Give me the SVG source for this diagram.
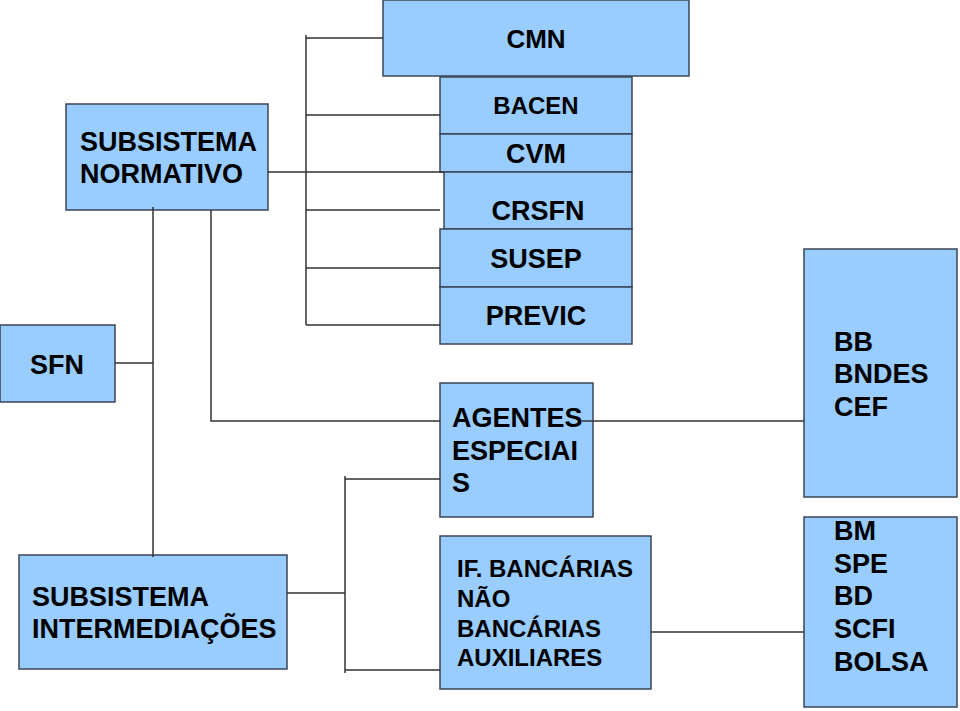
<svg xmlns="http://www.w3.org/2000/svg" width="960" height="711" viewBox="0 0 960 711">
<style>
.box{fill:#99CCFF;stroke:#3a4656;stroke-width:1.5}
.t{font-family:"Liberation Sans",Arial,sans-serif;font-weight:bold;font-size:27px;fill:#000}
.c{text-anchor:middle}
.ln{stroke:#333;stroke-width:1.5;fill:none}
</style>
<rect width="960" height="711" fill="#fff"/>
<g id="cmn"><rect class="box" x="383" y="0" width="306" height="76"/><text class="t c" x="536" y="48" style="font-size:26px">CMN</text></g>
<g id="bacen"><rect class="box" x="440" y="77" width="192" height="57"/><text class="t c" x="536" y="114" style="font-size:24px">BACEN</text></g>
<g id="cvm"><rect class="box" x="440" y="134" width="192" height="38"/><text class="t c" x="536" y="163">CVM</text></g>
<g id="crsfn"><rect class="box" x="444" y="172" width="188" height="57"/><text class="t c" x="538" y="220">CRSFN</text></g>
<g id="susep"><rect class="box" x="440" y="229" width="192" height="58"/><text class="t c" x="536" y="268">SUSEP</text></g>
<g id="previc"><rect class="box" x="440" y="287" width="192" height="57"/><text class="t c" x="536" y="325">PREVIC</text></g>
<g id="normativo"><rect class="box" x="66" y="104" width="202" height="106"/><text class="t" x="80" y="151">SUBSISTEMA</text><text class="t" x="80" y="183">NORMATIVO</text></g>
<g id="sfn"><rect class="box" x="0" y="325" width="115" height="77"/><text class="t c" x="57" y="374">SFN</text></g>
<g id="intermediacoes"><rect class="box" x="19" y="555" width="268" height="114"/><text class="t" x="32" y="606">SUBSISTEMA</text><text class="t" x="32" y="638">INTERMEDIAÇÕES</text></g>
<g id="agentes"><rect class="box" x="440" y="383" width="153" height="134"/><text class="t" x="452" y="427">AGENTES</text><text class="t" x="452" y="460">ESPECIAI</text><text class="t" x="452" y="492">S</text></g>
<g id="ifs"><rect class="box" x="440" y="536" width="211" height="153"/><g class="t" style="font-size:24px"><text x="457" y="577">IF. BANCÁRIAS</text><text x="457" y="607">NÃO</text><text x="457" y="637">BANCÁRIAS</text><text x="457" y="666">AUXILIARES</text></g></g>
<g id="bb"><rect class="box" x="804" y="249" width="153" height="248"/><text class="t" x="834" y="351">BB</text><text class="t" x="834" y="383">BNDES</text><text class="t" x="834" y="416">CEF</text></g>
<g id="bm"><rect class="box" x="804" y="517" width="153" height="190"/><text class="t" x="834" y="540">BM</text><text class="t" x="834" y="573">SPE</text><text class="t" x="834" y="605">BD</text><text class="t" x="834" y="638">SCFI</text><text class="t" x="834" y="671">BOLSA</text></g>
<g id="connectors" class="ln">
<path d="M306,35V325M306,38H383M306,115H440M268,172H444M306,210H440M306,268H440M306,325H440"/>
<path d="M115,363H153M153,207V557"/>
<path d="M211,210V421H440"/>
<path d="M582,421H804"/>
<path d="M287,593H345M345,476V673M345,479H440M345,670H440"/>
<path d="M651,632H804"/>
</g>
</svg>
